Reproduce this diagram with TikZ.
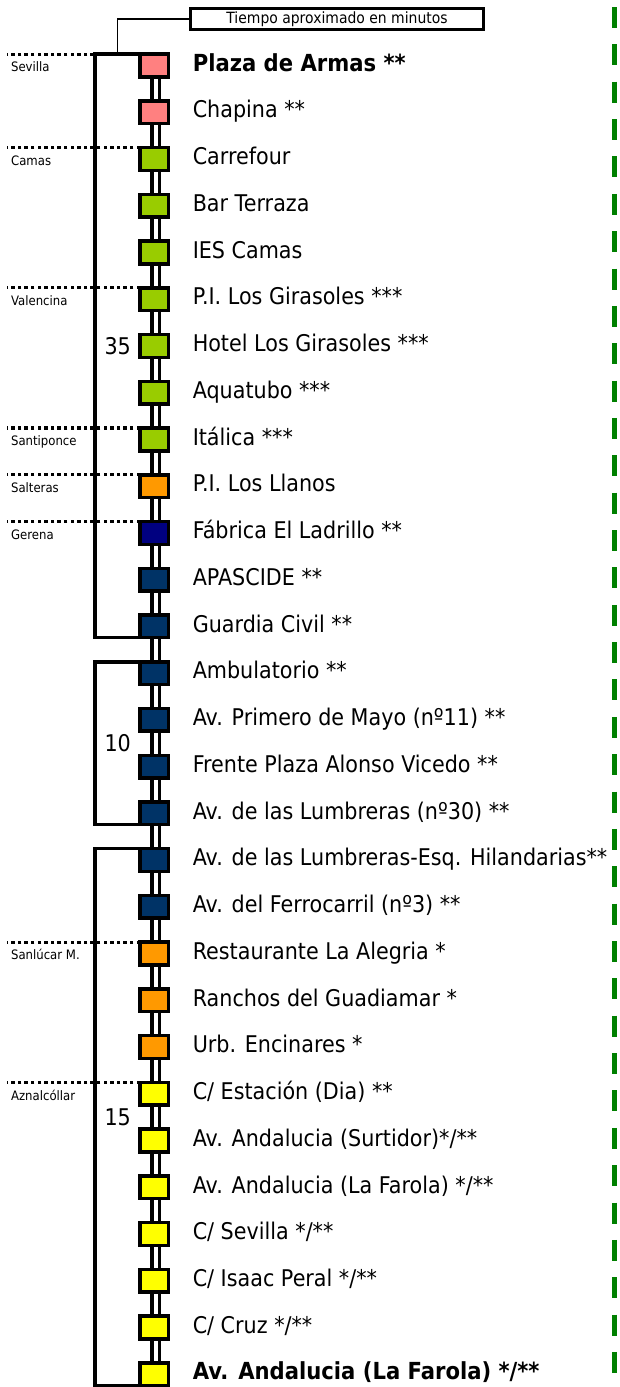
\documentclass[tikz,border=0pt]{standalone}
\usepackage{fontspec}
\setmainfont{DejaVu Sans}[FakeStretch=0.9]
\usetikzlibrary{positioning,calc,backgrounds}

\definecolor{stoppink}{RGB}{255,128,128}
\definecolor{stoplime}{RGB}{153,204,0}
\definecolor{stoporange}{RGB}{255,153,0}
\definecolor{stopnavy}{RGB}{0,0,128}
\definecolor{stopblue}{RGB}{0,51,102}
\definecolor{stopyellow}{RGB}{255,255,0}
\definecolor{railgreen}{RGB}{0,128,0}

\begin{document}
\begin{tikzpicture}[x=1pt, y=-1pt, node distance=24.04pt,
    stop/.style={rectangle, draw=black, line width=3.5pt, minimum width=28.5pt, minimum height=22.7pt, inner sep=0pt, outer sep=0pt},
    stn/.style={inner sep=0pt, font=\fontsize{23}{27}\selectfont, text height=17.25pt, text depth=5.75pt},
    stnbold/.style={stn, font=\fontsize{23.5}{27}\selectfont\bfseries},
    num/.style={inner sep=0pt, font=\fontsize{23}{27}\selectfont},
    town/.style={inner sep=0pt, anchor=base west, xshift=2.5pt, yshift=-17.7pt, font=\fontsize{13}{15}\selectfont},
    townline/.style={line width=3.2pt, dash pattern=on 3.4pt off 3.2pt},
    bracket/.style={line width=3.5pt},
    track/.style={line width=3.5pt, double=white, double distance=4.3pt},
    hdr/.style={draw, line width=3.2pt, minimum width=292.8pt, minimum height=20.8pt, inner sep=0pt, font=\fontsize{15.5}{18}\selectfont},
    lead/.style={line width=1.5pt},
    rail/.style={draw=railgreen, line width=5pt, dash pattern=on 21pt off 16.36pt}]

    \useasboundingbox (0,0) rectangle (619,1387);

    % Header box
    \node[hdr] (hdr) at (337,19) {Tiempo aproximado en minutos};

    % Stop squares, top to bottom
    \node[stop, fill=stoppink] (s1) at (154.3,65.5) {};
    \node[stop, fill=stoppink, below=of s1] (s2) {};
    \node[stop, fill=stoplime, below=of s2] (s3) {};
    \node[stop, fill=stoplime, below=of s3] (s4) {};
    \node[stop, fill=stoplime, below=of s4] (s5) {};
    \node[stop, fill=stoplime, below=of s5] (s6) {};
    \node[stop, fill=stoplime, below=of s6] (s7) {};
    \node[stop, fill=stoplime, below=of s7] (s8) {};
    \node[stop, fill=stoplime, below=of s8] (s9) {};
    \node[stop, fill=stoporange, below=of s9] (s10) {};
    \node[stop, fill=stopnavy, below=of s10] (s11) {};
    \node[stop, fill=stopblue, below=of s11] (s12) {};
    \node[stop, fill=stopblue, below=of s12] (s13) {};
    \node[stop, fill=stopblue, below=of s13] (s14) {};
    \node[stop, fill=stopblue, below=of s14] (s15) {};
    \node[stop, fill=stopblue, below=of s15] (s16) {};
    \node[stop, fill=stopblue, below=of s16] (s17) {};
    \node[stop, fill=stopblue, below=of s17] (s18) {};
    \node[stop, fill=stopblue, below=of s18] (s19) {};
    \node[stop, fill=stoporange, below=of s19] (s20) {};
    \node[stop, fill=stoporange, below=of s20] (s21) {};
    \node[stop, fill=stoporange, below=of s21] (s22) {};
    \node[stop, fill=stopyellow, below=of s22] (s23) {};
    \node[stop, fill=stopyellow, below=of s23] (s24) {};
    \node[stop, fill=stopyellow, below=of s24] (s25) {};
    \node[stop, fill=stopyellow, below=of s25] (s26) {};
    \node[stop, fill=stopyellow, below=of s26] (s27) {};
    \node[stop, fill=stopyellow, below=of s27] (s28) {};
    \node[stop, fill=stopyellow, below=of s28] (s29) {};

    % Stop names
    \node[stnbold, right=24pt of s1] (l1) {Plaza de Armas **};
    \node[stn, right=24pt of s2] (l2) {Chapina **};
    \node[stn, right=24pt of s3] (l3) {Carrefour};
    \node[stn, right=24pt of s4] (l4) {Bar Terraza};
    \node[stn, right=24pt of s5] (l5) {IES Camas};
    \node[stn, right=24pt of s6] (l6) {P.I. Los Girasoles ***};
    \node[stn, right=24pt of s7] (l7) {Hotel Los Girasoles ***};
    \node[stn, right=24pt of s8] (l8) {Aquatubo ***};
    \node[stn, right=24pt of s9] (l9) {Itálica ***};
    \node[stn, right=24pt of s10] (l10) {P.I. Los Llanos};
    \node[stn, right=24pt of s11] (l11) {Fábrica El Ladrillo **};
    \node[stn, right=24pt of s12] (l12) {APASCIDE **};
    \node[stn, right=24pt of s13] (l13) {Guardia Civil **};
    \node[stn, right=24pt of s14] (l14) {Ambulatorio **};
    \node[stn, right=24pt of s15] (l15) {Av. Primero de Mayo (nº11) **};
    \node[stn, right=24pt of s16] (l16) {Frente Plaza Alonso Vicedo **};
    \node[stn, right=24pt of s17] (l17) {Av. de las Lumbreras (nº30) **};
    \node[stn, right=24pt of s18] (l18) {Av. de las Lumbreras-Esq. Hilandarias**};
    \node[stn, right=24pt of s19] (l19) {Av. del Ferrocarril (nº3) **};
    \node[stn, right=24pt of s20] (l20) {Restaurante La Alegria *};
    \node[stn, right=24pt of s21] (l21) {Ranchos del Guadiamar *};
    \node[stn, right=24pt of s22] (l22) {Urb. Encinares *};
    \node[stn, right=24pt of s23] (l23) {C/ Estación (Dia) **};
    \node[stn, right=24pt of s24] (l24) {Av. Andalucia (Surtidor)*/**};
    \node[stn, right=24pt of s25] (l25) {Av. Andalucia (La Farola) */**};
    \node[stn, right=24pt of s26] (l26) {C/ Sevilla */**};
    \node[stn, right=24pt of s27] (l27) {C/ Isaac Peral */**};
    \node[stn, right=24pt of s28] (l28) {C/ Cruz */**};
    \node[stnbold, right=24pt of s29] (l29) {Av. Andalucia (La Farola) */**};

    % Minutes per section
    \node[num, left=9pt of s7] (n35) {35};
    \node[num, anchor=east] (n10) at ($(s15.west)!.5!(s16.west)+(-9,0)$) {10};
    \node[num, anchor=east] (n15) at ($(s23.west)!.5!(s24.west)+(-9,0)$) {15};

    \coordinate (lft) at (7,0);
    \coordinate (railtop) at (614.5,7);
    \coordinate (railbot) at (614.5,1373);

    \begin{scope}[on background layer]
    % Track between stops
    \foreach \i [count=\j from 2] in {1,...,28}
        \draw[track] ([xshift=1.5pt]s\i.south) -- ([xshift=1.5pt]s\j.north);

    % Town limits
    \draw[townline] (s1.north west) -- (s1.north west -| lft) node[town] (t1) {Sevilla};
    \draw[townline] (s3.north west) -- (s3.north west -| lft) node[town] (t3) {Camas};
    \draw[townline] (s6.north west) -- (s6.north west -| lft) node[town] (t6) {Valencina};
    \draw[townline] (s9.north west) -- (s9.north west -| lft) node[town] (t9) {Santiponce};
    \draw[townline] (s10.north west) -- (s10.north west -| lft) node[town] (t10) {Salteras};
    \draw[townline] (s11.north west) -- (s11.north west -| lft) node[town] (t11) {Gerena};
    \draw[townline] (s20.north west) -- (s20.north west -| lft) node[town] (t20) {Sanlúcar M.};
    \draw[townline] (s23.north west) -- (s23.north west -| lft) node[town] (t23) {Aznalcóllar};

    % Brackets for the time sections
    \draw[bracket] (s1.north west) -- coordinate[midway] (top1) ++(-45,0) |- (s13.south west);
    \draw[bracket] (s14.north west) -- ++(-45,0) |- (s17.south west);
    \draw[bracket] (s18.north west) -- ++(-45,0) |- (s29.south west);
    \end{scope}

    % Lead to the header
    \draw[lead] (top1) |- (hdr.west);

    % Green dashed rule on the right
    \draw[rail] (railtop) -- (railbot);

\end{tikzpicture}
\end{document}
